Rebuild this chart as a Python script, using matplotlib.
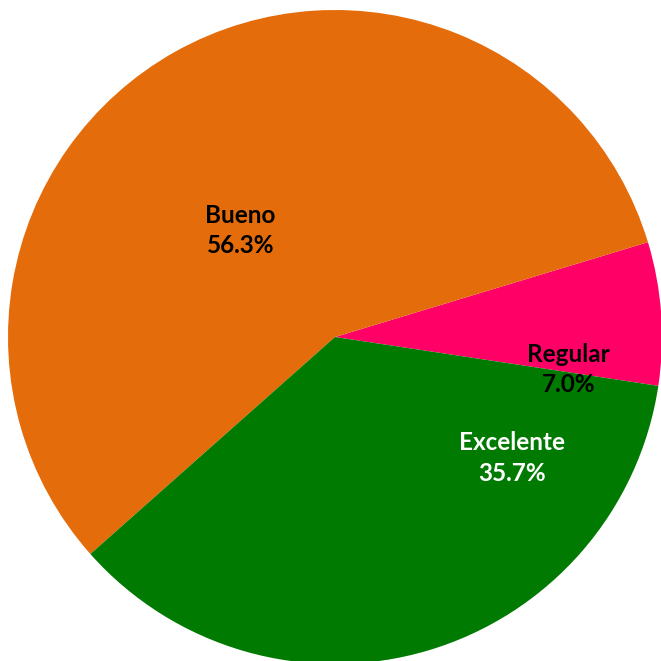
import matplotlib.pyplot as plt

# Datos del gráfico
categorias = ["Regular", "Bueno", "Excelente"]
porcentajes = [7.0, 56.3, 35.7]
colores = ["#FF0066", "#E46C0A", "#007A00"]
color_texto = ["black", "black", "white"]
# posición de etiquetas (en unidades del radio)
pos_etiquetas = [(0.713, -0.10), (-0.29, 0.325), (0.541, -0.37)]

fig = plt.figure(figsize=(6.61, 6.61), dpi=100)
ax = fig.add_axes([0, 0, 1, 1])

ax.pie(porcentajes, colors=colores, startangle=-8.6, counterclock=True,
       radius=1.0, center=(0, 0), wedgeprops=dict(linewidth=0))

for cat, val, (x, y), c in zip(categorias, porcentajes, pos_etiquetas, color_texto):
    ax.text(x, y, "{}\n{:.1f}%".format(cat, val), ha="center", va="center",
            fontsize=17.5, fontweight="bold", family=["Lato", "DejaVu Sans"],
            color=c, linespacing=1.38)

s = 327.0
ax.set_xlim((0 - 335) / s, (661 - 335) / s)
ax.set_ylim(-(661 - 337) / s, 337 / s)
ax.set_aspect("equal")
ax.axis("off")

fig.savefig("out.png", dpi=100)
